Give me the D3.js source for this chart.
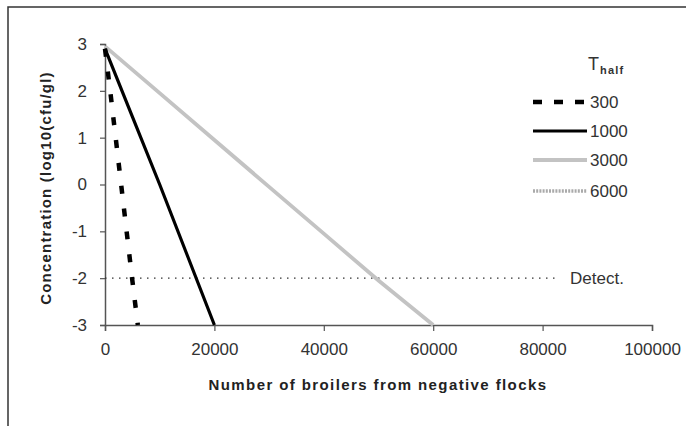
<!DOCTYPE html>
<html><head><meta charset="utf-8">
<script src="https://cdn.jsdelivr.net/npm/d3@7"></script>
<style>
html,body{margin:0;padding:0;background:#fff;}
svg text{font-family:"Liberation Sans",Arial,sans-serif;}
</style></head>
<body><svg id="c" width="686" height="426"></svg>
<script>
// Data
const xTicks = [0, 20000, 40000, 60000, 80000, 100000];
const yTicks = [-3, -2, -1, 0, 1, 2, 3];
const seriesNames = ["300", "1000", "3000", "6000"];
const x300 = [0, 1000, 2000, 3000, 4000, 5000, 6000];
const y300 = [2.9, 1.95, 0.95, -0.05, -1.05, -2.05, -3.0];
const x1000 = [0, 5000, 10000, 15000, 20000];
const y1000 = [2.9, 1.45, 0.0, -1.5, -3.0];
const x3000 = [0, 10000, 20000, 30000, 40000, 50000, 60000];
const y3000 = [2.95, 1.95, 0.95, -0.05, -1.05, -2.05, -3.0];
const x6000 = [];
const y6000 = [];
const detectLevel = -2;
const detectEnd = 83000;
const detectLabel = "Detect.";

const svg = d3.select("#c");
const x = d3.scaleLinear().domain([0, 100000]).range([105, 652]);
const y = d3.scaleLinear().domain([-3, 3]).range([325, 44]);

// frame
svg.append("path").attr("d", "M8,426V7H686").attr("fill","none").attr("stroke","#333").attr("stroke-width",1.5);

// axes
const gx = svg.append("g").attr("transform", `translate(0,${y(-3)})`)
  .call(d3.axisBottom(x).tickValues(xTicks).tickFormat(d3.format("d")).tickSize(6).tickPadding(12));
const gy = svg.append("g").attr("transform", `translate(${x(0)},0)`)
  .call(d3.axisLeft(y).tickValues(yTicks).tickFormat(d3.format("d")).tickSize(5).tickPadding(13));
[gx, gy].forEach(g => {
  g.select(".domain").attr("stroke", "#555").attr("stroke-width", 1.5);
  g.selectAll(".tick line").attr("stroke", "#555").attr("stroke-width", 1.2);
  g.selectAll(".tick text").attr("fill", "#333").attr("font-size", 17)
   .attr("font-family", "Liberation Sans, Arial, sans-serif");
});
gy.selectAll(".tick text").text(d => d < 0 ? "-" + Math.abs(d) : d);

// detect line
svg.append("line").attr("x1", x(0)).attr("x2", x(detectEnd))
  .attr("y1", y(detectLevel)).attr("y2", y(detectLevel))
  .attr("stroke", "#333").attr("stroke-width", 1.3).attr("stroke-dasharray", "1.5,5.5");
svg.append("text").attr("x", 570).attr("y", y(detectLevel)).attr("dy", "0.35em")
  .attr("font-size", 17).attr("fill", "#333").text(detectLabel);

const styles = {
  "300": {stroke: "#000", width: 4.5, dash: "8,15"},
  "1000": {stroke: "#000", width: 3.2, dash: null},
  "3000": {stroke: "#c3c3c3", width: 3.8, dash: null},
  "6000": {stroke: "#aaa", width: 4, dash: "2,1.2"}
};
const data = {
  "300": x300.map((v,i)=>[v, y300[i]]),
  "1000": x1000.map((v,i)=>[v, y1000[i]]),
  "3000": x3000.map((v,i)=>[v, y3000[i]]),
  "6000": x6000.map((v,i)=>[v, y6000[i]])
};
const line = d3.line().x(d => x(d[0])).y(d => y(d[1]));
["3000", "1000", "300", "6000"].forEach(k => {
  if (!data[k].length) return;
  const s = styles[k];
  svg.append("path").datum(data[k]).attr("d", line).attr("fill", "none")
    .attr("stroke", s.stroke).attr("stroke-width", s.width)
    .attr("stroke-dasharray", s.dash);
});

// legend
const lt = svg.append("text").attr("x", 588).attr("y", 70).attr("fill", "#333");
lt.append("tspan").attr("font-size", 18).text("T");
lt.append("tspan").attr("font-size", 11).attr("dy", 4).attr("dx", 1).attr("font-weight", "bold").attr("letter-spacing", 1.2).text("half");
const legY = [102, 131, 160, 191];
seriesNames.forEach((k, i) => {
  const s = styles[k];
  svg.append("line").attr("x1", 533).attr("x2", 587).attr("y1", legY[i]).attr("y2", legY[i])
    .attr("stroke", s.stroke).attr("stroke-width", k === "6000" ? 3.5 : s.width)
    .attr("stroke-dasharray", k === "300" ? "9,12" : s.dash);
  svg.append("text").attr("x", 590).attr("y", legY[i]).attr("dy", "0.35em")
    .attr("font-size", 17).attr("fill", "#333").text(k);
});

// axis titles
svg.append("text").attr("x", 378).attr("y", 390).attr("text-anchor", "middle")
  .attr("font-size", 15).attr("font-weight", "bold").attr("letter-spacing", 1.4).attr("fill", "#222")
  .text("Number of broilers from negative flocks");
svg.append("text").attr("transform", "translate(51,188) rotate(-90)").attr("text-anchor", "middle")
  .attr("font-size", 15).attr("font-weight", "bold").attr("letter-spacing", 1.2).attr("fill", "#222")
  .text("Concentration (log10(cfu/gl)");
</script></body></html>
